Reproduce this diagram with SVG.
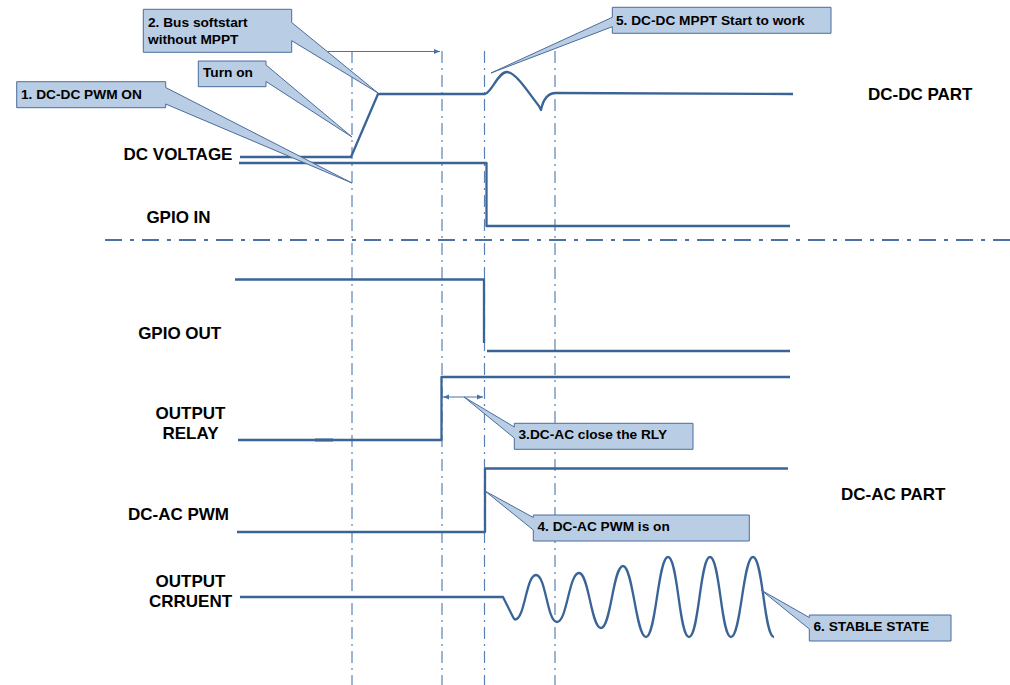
<svg xmlns="http://www.w3.org/2000/svg" width="1010" height="685" viewBox="0 0 1010 685">
<style>
.sig{fill:none;stroke:#3b6496;stroke-width:2.3;stroke-linejoin:round}
.vgrid{fill:none;stroke:#5b82b4;stroke-width:1.2;stroke-dasharray:12 5 2 5}
.hgrid{fill:none;stroke:#4a70a4;stroke-width:1.8;stroke-dasharray:17 8 4 8}
.thin{fill:none;stroke:#4a72a8;stroke-width:1}
.co{fill:#b9cde5;stroke:#4a6d9c;stroke-width:1}
.lbl{font-family:"Liberation Sans",Arial,sans-serif;font-weight:bold;font-size:17px;fill:#000}
.ct{font-family:"Liberation Sans",Arial,sans-serif;font-weight:bold;font-size:13.7px;fill:#000}
</style>
<defs>
<marker id="ah" viewBox="0 0 10 10" refX="10" refY="5" markerWidth="6" markerHeight="6" orient="auto-start-reverse" markerUnits="userSpaceOnUse">
<path d="M0,1 L10,5 L0,9 Z" fill="#4a72a8"/>
</marker>
</defs>
<rect width="1010" height="685" fill="#fff"/>

<g id="grid">
<line class="vgrid" x1="352" y1="51" x2="352" y2="685"/>
<line class="vgrid" x1="442" y1="51" x2="442" y2="685"/>
<line class="vgrid" x1="484.5" y1="51" x2="484.5" y2="685"/>
<line class="vgrid" x1="555" y1="51" x2="555" y2="685"/>
<line class="hgrid" x1="105" y1="240" x2="1010" y2="240"/>
</g>

<g id="connectors">
<line class="thin" x1="320" y1="51.5" x2="440" y2="51.5" marker-end="url(#ah)"/>
<line class="thin" x1="443" y1="397" x2="483" y2="397" marker-start="url(#ah)" marker-end="url(#ah)"/>
</g>

<g id="signals">
<path id="dc-voltage" class="sig" d="M240,157 L351,157 L378,94 L485,94 C492,92 498,72 507,72 C516,72 530,95 539,106 L541,110 C543,100 547,93 556,93 L793,94"/>
<path id="gpio-in" class="sig" d="M239,163 L486.5,163 L486.5,226 L790,226"/>
<path id="gpio-out" class="sig" d="M235,279.5 L484,279.5 L484,343"/>
<line class="sig" x1="487" y1="351" x2="790" y2="351"/>
<path id="output-relay" class="sig" d="M238,440 L441.5,440 L441.5,377 L790,377"/>
<line class="sig" x1="315" y1="440" x2="333" y2="440" style="stroke-width:3"/>
<path id="dc-ac-pwm" class="sig" d="M237,532 L485,532 L485,468.5 L788,468.5"/>
<path id="output-current" class="sig" d="M240,597 L503,597 L513,617 C514,619 514.5,619.5 515,619.5 C525,619.5 526,575 536,575 C546,575 547,622 557,622 C567,622 569,573 579,573 C589,573 591,628 601,628 C611,628 613,566 623,566 C633,566 636,637 646,637 C656,637 658,557 668,557 C678,557 679,637 689,637 C699,637 700,557 710,557 C720,557 721,637 731,637 C741,637 743,557 753,557 C763,557 764,637 774,637"/>
</g>

<g id="labels">
<text class="lbl" x="178" y="160" text-anchor="middle">DC VOLTAGE</text>
<text class="lbl" x="178.5" y="222.5" text-anchor="middle">GPIO IN</text>
<text class="lbl" x="179.7" y="339" text-anchor="middle">GPIO OUT</text>
<text class="lbl" x="190.5" y="419" text-anchor="middle">OUTPUT</text>
<text class="lbl" x="190.5" y="438.5" text-anchor="middle">RELAY</text>
<text class="lbl" x="178.5" y="520" text-anchor="middle">DC-AC PWM</text>
<text class="lbl" x="190.5" y="587" text-anchor="middle">OUTPUT</text>
<text class="lbl" x="190.5" y="606.5" text-anchor="middle">CRRUENT</text>
<text class="lbl" x="868" y="99.5">DC-DC PART</text>
<text class="lbl" x="841" y="499.5">DC-AC PART</text>
</g>

<g id="callout1">
<path class="co" d="M16.7,81.7 L165.7,81.7 L165.7,87.5 L352,183 L165.7,104 L165.7,107.7 L16.7,107.7 Z"/>
<text class="ct" x="21" y="98.5">1. DC-DC PWM ON</text>
</g>
<g id="callout-turnon">
<path class="co" d="M198.3,61 L266,61 L266,65 L352,137 L266,81.5 L266,86.7 L198.3,86.7 Z"/>
<text class="ct" x="203" y="77">Turn on</text>
</g>
<g id="callout2">
<path class="co" d="M143.3,9.3 L291.7,9.3 L291.7,22.5 L378,93 L291.7,40.7 L291.7,52.3 L143.3,52.3 Z"/>
<text class="ct" x="148" y="27">2. Bus softstart</text>
<text class="ct" x="148" y="44">without MPPT</text>
</g>
<g id="callout5">
<path class="co" d="M612.3,7.3 L831,7.3 L831,33.3 L612.3,33.3 L612.3,26.7 L491,73 L612.3,17.3 Z"/>
<text class="ct" x="616" y="24.5">5. DC-DC MPPT Start to work</text>
</g>
<g id="callout3">
<path class="co" d="M514.3,423.3 L693,423.3 L693,449.3 L514.3,449.3 L514.3,438 L464,397 L514.3,427 Z"/>
<text class="ct" x="518.5" y="439">3.DC-AC close the RLY</text>
</g>
<g id="callout4">
<path class="co" d="M533.3,515 L749.3,515 L749.3,541 L533.3,541 L533.3,530 L485,491 L533.3,517.5 Z"/>
<text class="ct" x="537.5" y="530.5">4. DC-AC PWM is on</text>
</g>
<g id="callout6">
<path class="co" d="M809.3,615 L951,615 L951,641 L809.3,641 L809.3,629 L761,590 L809.3,617.5 Z"/>
<text class="ct" x="813.5" y="631">6. STABLE STATE</text>
</g>
</svg>
